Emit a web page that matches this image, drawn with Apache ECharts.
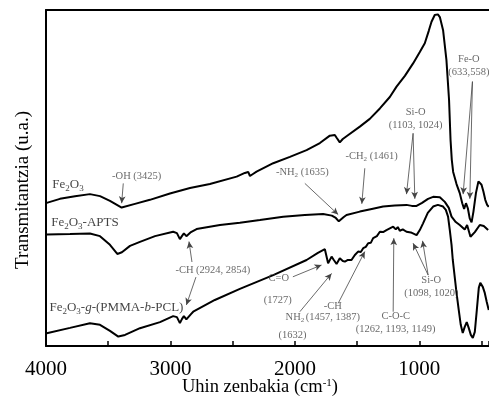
<!DOCTYPE html>
<html><head><meta charset="utf-8">
<script src="https://cdn.jsdelivr.net/npm/echarts/dist/echarts.min.js"></script>
<style>html,body{margin:0;padding:0;background:#fff}#c{width:489px;height:396px}</style>
</head><body><div id="c"></div>
<script>
// ---- data (wavenumber cm^-1, transmittance a.u.) ----
const fe2o3Wn = [3994,3888,3767,3647,3566,3486,3392,3285,3165,3004,2843,2683,2468,2402,2375,2361,2337,2308,2174,2040,1906,1799,1719,1679,1663,1639,1615,1582,1478,1398,1317,1237,1183,1116,1050,996,956,924,902,876,851,835,809,782,761,749,739,728,701,675,655,640,625,610,595,580,565,545,525,514,500,485,470,455,442];
const fe2o3T  = [42.6,43.8,44.6,45.2,44.6,43.2,41.2,42.3,43.5,45.4,47.0,48.2,50.4,51.5,51.8,50.6,51.2,51.9,54.4,56.3,58.3,60.4,62.6,62.8,61.9,60.6,61.6,62.5,65.3,67.6,70.7,74.1,77.2,80.4,84.1,87.5,90.1,93.8,96.5,98.5,98.7,97.9,94.0,85.1,73.2,61.3,55.4,51.8,48.2,45.5,42.5,40.8,42.5,41,38,36.8,40,45.5,49,49.4,48,46,43.5,42,41.4];

const aptsWn = [3994,3807,3647,3566,3486,3427,3390,3325,3245,3124,2978,2948,2924,2908,2892,2872,2856,2835,2790,2602,2442,2281,2094,1920,1773,1703,1671,1647,1631,1607,1585,1478,1382,1291,1197,1103,1060,1022,978,930,889,835,795,763,741,707,675,635,616,589,554,514,482,447];
const aptsT  = [33.2,33.3,33.5,32.7,30.1,27.4,27.9,29.8,31.0,32.7,34.0,33.6,31.8,32.7,33.5,32.7,32.4,33.9,34.8,36.0,36.7,37.5,38.5,39.0,39.3,38.8,38.1,37.1,37.2,38.4,39.0,40.0,40.8,41.5,41.8,42.0,41.7,41.7,42.6,43.8,44.4,44.3,42.9,41.1,38.5,36.9,36.0,34.7,36.0,32.5,33.9,36.0,35.7,34.5];

const pmmaWn = [3994,3807,3647,3566,3486,3419,3365,3245,3084,2978,2948,2924,2908,2892,2872,2856,2835,2817,2643,2442,2174,1906,1815,1759,1743,1733,1705,1687,1665,1639,1615,1598,1574,1545,1518,1492,1470,1451,1430,1411,1390,1371,1341,1317,1291,1264,1237,1210,1189,1173,1157,1133,1103,1068,1022,996,970,932,889,851,809,787,769,755,741,731,701,683,667,651,635,619,603,586,570,554,538,522,510,490,474,458,442];
const pmmaT  = [3.8,5.4,6.8,6.3,4.5,2.8,3.3,5.3,7.1,8.9,8.6,6.8,8.0,8.9,7.9,7.7,9.5,10.2,13.7,17.0,21.1,25.6,27.7,28.8,28.3,24.6,26.6,25.6,24.4,26.1,25.3,25.1,25.6,25.6,27.1,28.1,28.0,29.1,29.5,30.6,30.7,32.1,32.7,34.0,33.9,34.5,35.0,35.5,34.7,35.4,34.3,34.7,34.0,33.8,33.0,34.5,36.5,39.6,41.5,42.0,41.5,40.5,38.5,34.5,30.1,25.6,15.8,10.7,6.3,3.9,5.7,7.1,5.4,3.3,2.4,4.2,10.7,17.3,18.8,17.6,15.8,13.1,10.7];

const xTickLabels = [4000, 3000, 2000, 1000];

// series names drawn next to curves: [text, wavenumber, value]
const seriesLabels = [
  ['Fe{s|2}O{s|3}', 3823, 47.9],
  ['Fe{s|2}O{s|3}-APTS', 3687, 36.6],
  ['Fe{s|2}O{s|3}-{i|g}-(PMMA-{i|b}-PCL)', 3434, 11.3]
];
// band annotations: [text, wavenumber, value]
const bandLabels = [
  ['-OH (3425)', 3271, 50.6],
  ['-CH (2924, 2854)', 2659, 22.6],
  ['-NH{s|2} (1635)', 1940, 51.6],
  ['-CH{s|2} (1461)', 1384, 56.5],
  ['Si-O\n(1103, 1024)', 1030, 67.5],
  ['Fe-O\n(633,558)', 602, 83.4],
  ['C=O', 2129, 20.2],
  ['(1727)', 2137, 13.7],
  ['NH{s|2}', 2000, 8.5],
  ['(1632)', 2020, 3.3],
  ['-CH', 1695, 11.7],
  ['(1457, 1387)', 1695, 8.5],
  ['C-O-C\n(1262, 1193, 1149)', 1190, 7.0],
  ['Si-O\n(1098, 1020)', 904, 17.7]
];
// arrows: [fromWn, fromVal, toWn, toVal]
const arrows = [
  [3379, 48.4, 3392, 42.5],
  [2827, 25.0, 2851, 31.1],
  [2795, 20.5, 2872, 12.2],
  [1920, 48.4, 1652, 39.1],
  [1438, 52.9, 1462, 42.3],
  [1050, 63.3, 1103, 45.2],
  [1050, 63.3, 1036, 43.8],
  [573, 78.7, 648, 45.2],
  [573, 78.7, 594, 43.8],
  [2016, 20.6, 1786, 24.1],
  [1960, 10.2, 1705, 21.6],
  [1652, 12.7, 1438, 28.1],
  [1210, 10.2, 1205, 32.1],
  [929, 21.1, 1050, 30.6],
  [929, 21.1, 974, 31.3]
];

const FONT = 'Liberation Serif';
const pairs = (w, t) => w.map((x, i) => [-x, t[i]]);

const chart = echarts.init(document.getElementById('c'), null, {renderer: 'canvas'});

const bigRich = {
  s: {fontFamily: FONT, fontSize: 9, color: '#111', verticalAlign: 'bottom', lineHeight: 9},
  i: {fontFamily: FONT, fontSize: 13, color: '#111', fontStyle: 'italic', lineHeight: 17}
};
const smallRich = {
  s: {fontFamily: FONT, fontSize: 7, color: '#444', verticalAlign: 'bottom', lineHeight: 7}
};

const lineSeries = (name, w, t) => ({
  name, type: 'line', data: pairs(w, t), showSymbol: false, symbol: 'none',
  lineStyle: {color: '#000', width: 2}, silent: true, z: 3
});

chart.setOption({
  animation: false,
  grid: {left: 46, right: 0, top: 10, bottom: 50, outerBoundsMode: 'none', containLabel: false},
  xAxis: [{
    type: 'value', min: -4000, max: -440, interval: 500, position: 'bottom',
    axisLine: {show: true, onZero: false, lineStyle: {color: '#000', width: 2}},
    axisTick: {show: true, inside: true, length: 5, lineStyle: {color: '#000', width: 1.5}},
    splitLine: {show: false},
    axisLabel: {
      margin: 13, fontFamily: FONT, fontSize: 21, color: '#000',
      formatter: v => xTickLabels.includes(-v) ? String(-v) : ''
    },
    name: 'Uhin zenbakia (cm{sup|-1})', nameLocation: 'middle', nameGap: 32, nameMoveOverlap: false,
    nameTextStyle: {fontFamily: FONT, fontSize: 18.5, color: '#000', padding: [0, 15, 0, 0],
      rich: {sup: {fontFamily: FONT, fontSize: 11, color: '#000', verticalAlign: 'top', lineHeight: 11}}}
  }, {
    type: 'value', min: -4000, max: -440, position: 'top',
    axisLine: {show: true, onZero: false, lineStyle: {color: '#000', width: 2}},
    axisTick: {show: false}, axisLabel: {show: false}, splitLine: {show: false}
  }],
  yAxis: {
    type: 'value', min: 0, max: 100,
    axisLine: {show: true, onZero: false, lineStyle: {color: '#000', width: 2}},
    axisTick: {show: false}, axisLabel: {show: false}, splitLine: {show: false},
    name: 'Transmitantzia (u.a.)', nameLocation: 'middle', nameGap: 13, nameMoveOverlap: false,
    nameTextStyle: {fontFamily: FONT, fontSize: 19, color: '#000', padding: [0, 24, 0, 0]}
  },
  series: [
    lineSeries('Fe2O3', fe2o3Wn, fe2o3T),
    lineSeries('Fe2O3-APTS', aptsWn, aptsT),
    lineSeries('Fe2O3-g-(PMMA-b-PCL)', pmmaWn, pmmaT),
    {
      type: 'scatter', symbolSize: 0, silent: true, z: 5,
      data: seriesLabels.map(d => ({value: [-d[1], d[2]], label: {formatter: d[0]}})),
      label: {show: true, position: 'inside', fontFamily: FONT, fontSize: 13, color: '#111', lineHeight: 17, rich: bigRich}
    },
    {
      type: 'scatter', symbolSize: 0, silent: true, z: 5,
      data: bandLabels.map(d => ({value: [-d[1], d[2]], label: {formatter: d[0]}})),
      label: {show: true, position: 'inside', fontFamily: FONT, fontSize: 10.5, color: '#444', lineHeight: 13, rich: smallRich},
      markLine: {
        silent: true, animation: false, symbol: ['none', 'arrow'], symbolSize: [5, 7],
        label: {show: false},
        lineStyle: {color: '#444', width: 0.8, type: 'solid'},
        emphasis: {disabled: true},
        data: arrows.map(a => [{coord: [-a[0], a[1]]}, {coord: [-a[2], a[3]]}])
      }
    }
  ]
});
</script></body></html>
